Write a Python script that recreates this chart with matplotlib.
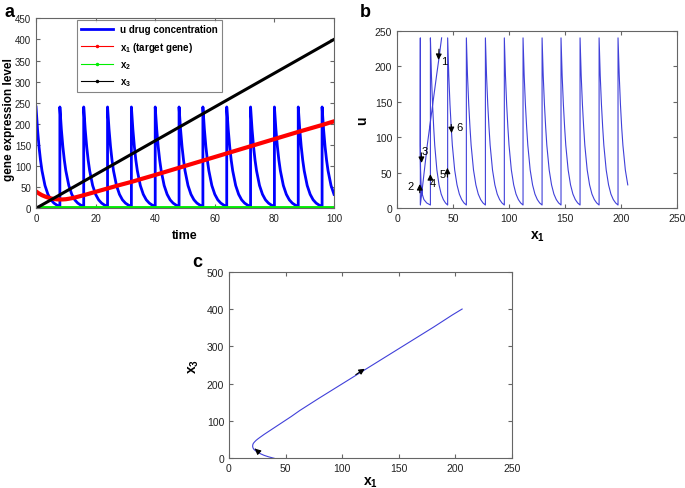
import numpy as np
import matplotlib
matplotlib.use('Agg')
import matplotlib.pyplot as plt
from matplotlib.lines import Line2D

plt.rcParams['font.family'] = ['Liberation Sans', 'DejaVu Sans']
plt.rcParams['mathtext.fontset'] = 'custom'
plt.rcParams['mathtext.rm'] = 'Liberation Sans'
plt.rcParams['mathtext.bf'] = 'Liberation Sans:bold'

# ---- data ----
# drug pulses (panel a): a pulse every 8 time units, then decay
pulse_times = [0, 8, 16, 24, 32, 40, 48, 56, 64, 72, 80, 88, 96]
decay_offsets = [0, 0.25, 0.5, 1, 1.5, 2, 3, 4, 5, 6, 7, 8]
decay_u = [240, 212, 187, 146, 114, 89, 54, 33, 20, 12.3, 7.5, 4.6]
t_end = 100

# target gene x1 and x3 over time
t_x = [0, 1, 2, 3, 4, 5, 6, 7, 8, 9, 10, 11, 12, 13, 14, 16, 20, 24, 28, 32,
       40, 48, 56, 64, 72, 80, 88, 96, 100]
x1_vals = [40, 35, 31, 28, 25.5, 23.5, 22, 21.2, 20.9, 21, 21.5, 22.6, 23.9,
           25.5, 27.3, 31, 39, 47, 55, 62.5, 79, 96, 113, 130, 147, 164, 181,
           197.3, 206]
x3_vals = [0, 4, 8, 12, 16, 20, 24, 28, 32, 36, 40, 44, 48, 52, 56, 64, 80, 96,
           112, 128, 160, 192, 224, 256, 288, 320, 352, 384, 400]
t_x2 = [0, 100]
x2_vals = [0, 0]

# panel b: x1 at each pulse, and x1 along the first segments
b_pulse_x = [20.8, 29.8, 45.2, 61.9, 78.9, 95.8, 112.5, 129.5, 146.4,
             163.4, 180.4, 197.3]
b_end_x = 206
b_first_x = [39.8, 37.5, 35.3, 31.8, 29, 27, 24.5, 23, 22, 21.4, 21, 20.8]
b_second_x = [20.8, 20.8, 20.75, 20.7, 20.7, 20.7, 21, 21.5, 22.5, 24, 26.5, 29.8]
b_xfrac = [0, 0.03, 0.06, 0.125, 0.19, 0.25, 0.375, 0.5, 0.625, 0.75, 0.875, 1]

# ---- build series ----
u_t, u_v = [], []
for p in pulse_times:
    for o, v in zip(decay_offsets, decay_u):
        if p + o <= t_end:
            u_t.append(p + o)
            u_v.append(v)

bx, bu = list(b_first_x), list(decay_u)
bx += b_second_x
bu += decay_u
for k in range(1, len(b_pulse_x) - 1):
    x0, x1 = b_pulse_x[k], b_pulse_x[k + 1]
    bx += [x0 + f * (x1 - x0) for f in b_xfrac]
    bu += decay_u
last_n = sum(1 for o in decay_offsets if pulse_times[-1] + o <= t_end)
for o, v in zip(decay_offsets[:last_n], decay_u[:last_n]):
    bx.append(b_pulse_x[-1] + (b_end_x - b_pulse_x[-1]) * o / (t_end - pulse_times[-1]))
    bu.append(v)

spine_col = '#666666'
line_col = (0.25, 0.25, 0.85)


def style(ax, size=7):
    ax.tick_params(direction='in', top=True, right=True, length=3,
                   labelsize=size, colors='#222222')
    ax.tick_params(axis='both', color=spine_col)
    for s in ax.spines.values():
        s.set_color(spine_col)
        s.set_linewidth(0.8)


fig = plt.figure(figsize=(6.85, 4.89), dpi=100)

# ---- panel a ----
ax = fig.add_axes([0.0526, 0.572, 0.435, 0.3885])
ax.plot(u_t, u_v, color='#0000ff', lw=2)
ax.plot(t_x, x1_vals, color='#ff0000', lw=3)
ax.plot(t_x2, x2_vals, color='#00ee00', lw=3.5)
ax.plot(t_x, x3_vals, color='k', lw=2.2)
ax.set_xlim(0, 100)
ax.set_ylim(0, 450)
ax.set_xticks(range(0, 101, 20))
ax.set_yticks(range(0, 451, 50))
ax.set_xlabel('time', fontsize=9, fontweight='bold')
ax.set_ylabel('gene expression level', fontsize=8.5, fontweight='bold')
ax.yaxis.set_label_coords(-0.072, 0.47)
style(ax)
handles = [
    Line2D([], [], color='#0000ff', lw=2),
    Line2D([], [], color='#ff0000', lw=0.8, marker='.', markersize=3),
    Line2D([], [], color='#00ee00', lw=0.8, marker='.', markersize=3),
    Line2D([], [], color='k', lw=0.8, marker='.', markersize=3),
]
labels = ['u drug concentration', r'$\mathbf{x_1}$ (target gene)',
          r'$\mathbf{x_2}$', r'$\mathbf{x_3}$']
leg = ax.legend(handles, labels, loc='upper left', bbox_to_anchor=(0.1376, 0.991),
                borderaxespad=0, fancybox=False, prop={'weight': 'bold', 'size': 7},
                handlelength=3.2, labelspacing=0.55, borderpad=0.45)
leg.get_frame().set_edgecolor(spine_col)
leg.get_frame().set_linewidth(0.8)
fig.text(0.006, 0.965, 'a', fontsize=13, fontweight='bold')

# ---- panel b ----
ax = fig.add_axes([0.5796, 0.572, 0.4088, 0.363])
ax.plot(bx, bu, color=line_col, lw=0.8)
ax.set_xlim(0, 250)
ax.set_ylim(0, 250)
ax.set_xticks(range(0, 251, 50))
ax.set_yticks(range(0, 251, 50))
ax.set_xlabel(r'$\mathbf{x_1}$', fontsize=10)
ax.set_ylabel('u', fontsize=10, fontweight='bold')
style(ax, 7.5)
arr = dict(arrowstyle='-|>', color='k', lw=0.8, mutation_scale=8.5)
b_arrows = [((36.9, 205), (37.6, 228)), ((20.3, 38), (20.3, 18)),
            ((22, 60), (21.6, 82)), ((29.8, 52), (29.8, 36)),
            ((45, 61), (45, 40)), ((48.8, 102), (48.3, 122))]
for head, tail in b_arrows:
    ax.annotate('', xy=head, xytext=tail, arrowprops=arr)
for lab, x, y in [('1', 42, 208), ('2', 12.2, 32), ('3', 25, 80), ('4', 32.3, 35),
                  ('5', 40.8, 49), ('6', 55.6, 114)]:
    ax.text(x, y, lab, fontsize=8, ha='center', va='center')
fig.text(0.525, 0.965, 'b', fontsize=13, fontweight='bold')

# ---- panel c ----
ax = fig.add_axes([0.3343, 0.0607, 0.413, 0.3816])
ax.plot(x1_vals, x3_vals, color=line_col, lw=0.8)
ax.set_xlim(0, 250)
ax.set_ylim(0, 500)
ax.set_xticks(range(0, 251, 50))
ax.set_yticks(range(0, 501, 100))
ax.set_xlabel(r'$\mathbf{x_1}$', fontsize=10, labelpad=1)
ax.set_ylabel(r'$\mathbf{x_3}$', fontsize=10)
style(ax, 7.5)
ax.annotate('', xy=(21, 31), xytext=(25, 20), arrowprops=arr)
ax.annotate('', xy=(122, 244), xytext=(110, 220), arrowprops=arr)
fig.text(0.28, 0.455, 'c', fontsize=13, fontweight='bold')

fig.savefig('out.png', dpi=100)
